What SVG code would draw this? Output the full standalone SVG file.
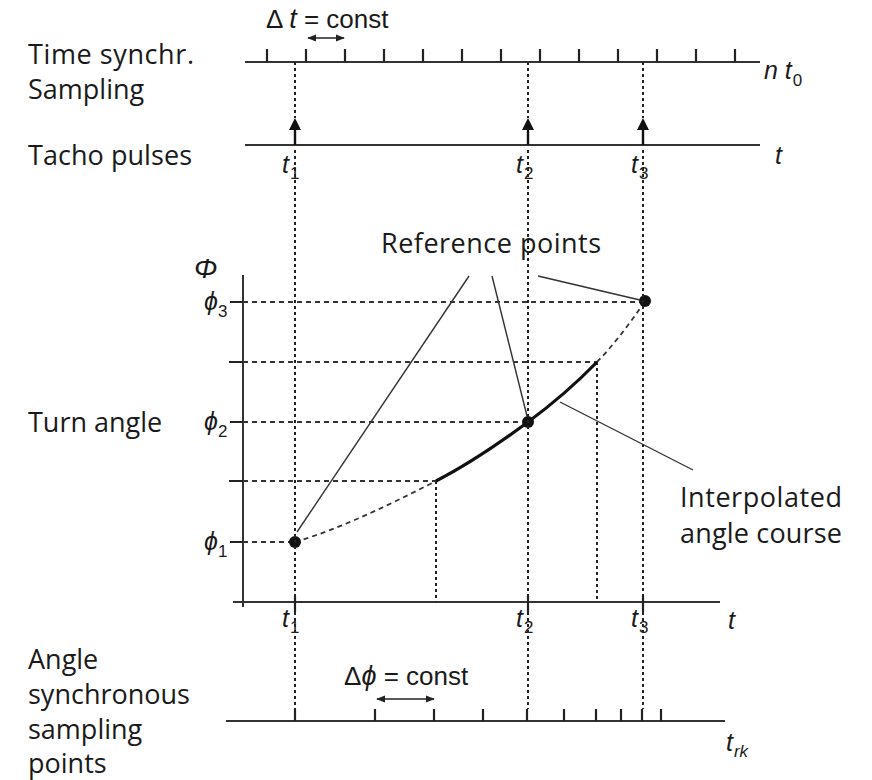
<svg xmlns="http://www.w3.org/2000/svg" width="872" height="780" viewBox="0 0 872 780">
<defs>
<style>
.lbl{font-family:"Open Sans","Noto Sans",sans-serif;font-size:27px;fill:#1a1a1a}
.m{font-family:"Liberation Sans","DejaVu Sans",sans-serif;font-style:italic;font-size:25px;fill:#1a1a1a}
.up{font-family:"Liberation Sans","DejaVu Sans",sans-serif;font-size:26px;fill:#1a1a1a}
.sub{font-family:"Liberation Sans","DejaVu Sans",sans-serif;font-style:normal;font-size:17px;fill:#1a1a1a}
.ax{stroke:#333;stroke-width:2;fill:none}
.tk{stroke:#222;stroke-width:2.2;fill:none}
.vdot{stroke:#222;stroke-width:2;stroke-dasharray:3 3;fill:none}
.hdash{stroke:#333;stroke-width:1.8;stroke-dasharray:5 4;fill:none}
.lead{stroke:#333;stroke-width:1.4;fill:none}
.dim{stroke:#222;stroke-width:1.6;fill:none;marker-start:url(#ah);marker-end:url(#ah)}
</style>
<marker id="ah" viewBox="0 0 10 10" refX="9" refY="5" markerWidth="9" markerHeight="9" markerUnits="userSpaceOnUse" orient="auto-start-reverse">
<path d="M0,1 L10,5 L0,9 Z" fill="#222"/>
</marker>
</defs>
<rect width="872" height="780" fill="#fff"/>

<g id="row-labels">
<text class="lbl" x="28" y="64" textLength="166">Time synchr.</text>
<text class="lbl" x="28" y="99">Sampling</text>
<text class="lbl" x="28" y="165" textLength="164">Tacho pulses</text>
<text class="lbl" x="28" y="432">Turn angle</text>
<text class="lbl" x="28" y="669">Angle</text>
<text class="lbl" x="28" y="704">synchronous</text>
<text class="lbl" x="28" y="739">sampling</text>
<text class="lbl" x="28" y="773">points</text>
</g>

<g id="time-sampling-axis">
<line class="ax" x1="245" y1="62" x2="760" y2="62"/>
<path class="tk" d="M267,49V62M306,49V62M345,49V62M384,49V62M423,49V62M462,49V62M501,49V62M540,49V62M579,49V62M618,49V62M657,49V62M696,49V62M735,49V62"/>
<text class="up" x="266" y="28">Δ <tspan class="m" style="font-size:27px">t</tspan> = const</text>
<line class="dim" x1="308" y1="38" x2="344" y2="38"/>
<text class="m" x="764" y="79">n t<tspan class="sub" dy="7" dx="1">0</tspan></text>
</g>

<g id="tacho-axis">
<line class="ax" x1="245" y1="145" x2="760" y2="145"/>
<path d="M295,145V128M528,145V128M643,145V128" stroke="#111" stroke-width="2.4" fill="none"/>
<path d="M295,118l-6,12h12zM528,118l-6,12h12zM643,118l-6,12h12z" fill="#111"/>
<text class="m" x="775" y="164">t</text>
<text class="m" x="282" y="173">t<tspan class="sub" dy="6" dx="1">1</tspan></text>
<text class="m" x="516" y="173">t<tspan class="sub" dy="6" dx="1">2</tspan></text>
<text class="m" x="631" y="173">t<tspan class="sub" dy="6" dx="1">3</tspan></text>
</g>

<g id="turn-angle-chart">
<line class="ax" x1="243" y1="275" x2="243" y2="607"/>
<line class="ax" x1="233" y1="602" x2="720" y2="602"/>
<path class="tk" d="M230,302H243M229,362H243M230,422H243M229,481H243M230,542H243M295,596V612M528,596V612M643,596V612" stroke-width="2"/>
<text class="m" x="194" y="278" style="font-size:28px">Φ</text>
<text class="m" x="204" y="310">ϕ<tspan class="sub" dy="7">3</tspan></text>
<text class="m" x="204" y="430">ϕ<tspan class="sub" dy="7">2</tspan></text>
<text class="m" x="204" y="550">ϕ<tspan class="sub" dy="7">1</tspan></text>
<text class="m" x="728" y="629">t</text>
<text class="m" x="282" y="627">t<tspan class="sub" dy="6" dx="1">1</tspan></text>
<text class="m" x="516" y="627">t<tspan class="sub" dy="6" dx="1">2</tspan></text>
<text class="m" x="631" y="627">t<tspan class="sub" dy="6" dx="1">3</tspan></text>
<path class="hdash" d="M243,302H640M243,362H597M243,422H522M243,481H436M243,542H290"/>
<path class="vdot" d="M436,481V602M597,362V602"/>
<path d="M295,542C342,528 389,505 436,481" stroke="#333" stroke-width="1.8" stroke-dasharray="5 4" fill="none"/>
<path d="M436,481C466.7,465.2 497.3,444.7 528,422C551,405 574,385.7 597,362" stroke="#111" stroke-width="3.2" fill="none"/>
<path d="M597,362C613,345.5 629,325 645,301" stroke="#333" stroke-width="1.8" stroke-dasharray="5 4" fill="none"/>
<circle cx="295" cy="542" r="6" fill="#111"/>
<circle cx="528" cy="422" r="6" fill="#111"/>
<circle cx="645" cy="301" r="6" fill="#111"/>
<text class="lbl" x="381" y="253" textLength="220">Reference points</text>
<text class="lbl" x="680" y="507" textLength="162">Interpolated</text>
<text class="lbl" x="680" y="543" textLength="162">angle course</text>
</g>

<g id="angle-sampling-axis">
<line class="ax" x1="226" y1="721" x2="725" y2="721"/>
<path class="tk" d="M295,709V721M375,709V721M434,709V721M483,709V721M527,709V721M564,709V721M596,709V721M621,709V721M642,709V721M661,709V721"/>
<text class="up" x="344" y="685">Δ<tspan class="m" style="font-size:27px">ϕ</tspan> = const</text>
<line class="dim" x1="377" y1="699" x2="434" y2="699"/>
<text class="m" x="726" y="751">t<tspan class="sub" dy="6" dx="1" style="font-style:italic">rk</tspan></text>
</g>

<g id="connectors">
<path class="vdot" d="M295,62V118M295,150V709"/>
<path class="vdot" d="M528,62V118M528,150V709"/>
<path class="vdot" d="M643,62V118M643,150V709"/>
<line class="lead" x1="469" y1="276" x2="297" y2="532"/>
<line class="lead" x1="492" y1="276" x2="527" y2="416"/>
<line class="lead" x1="538" y1="276" x2="640" y2="300"/>
<line class="lead" x1="560" y1="402" x2="693" y2="470"/>
</g>
</svg>
